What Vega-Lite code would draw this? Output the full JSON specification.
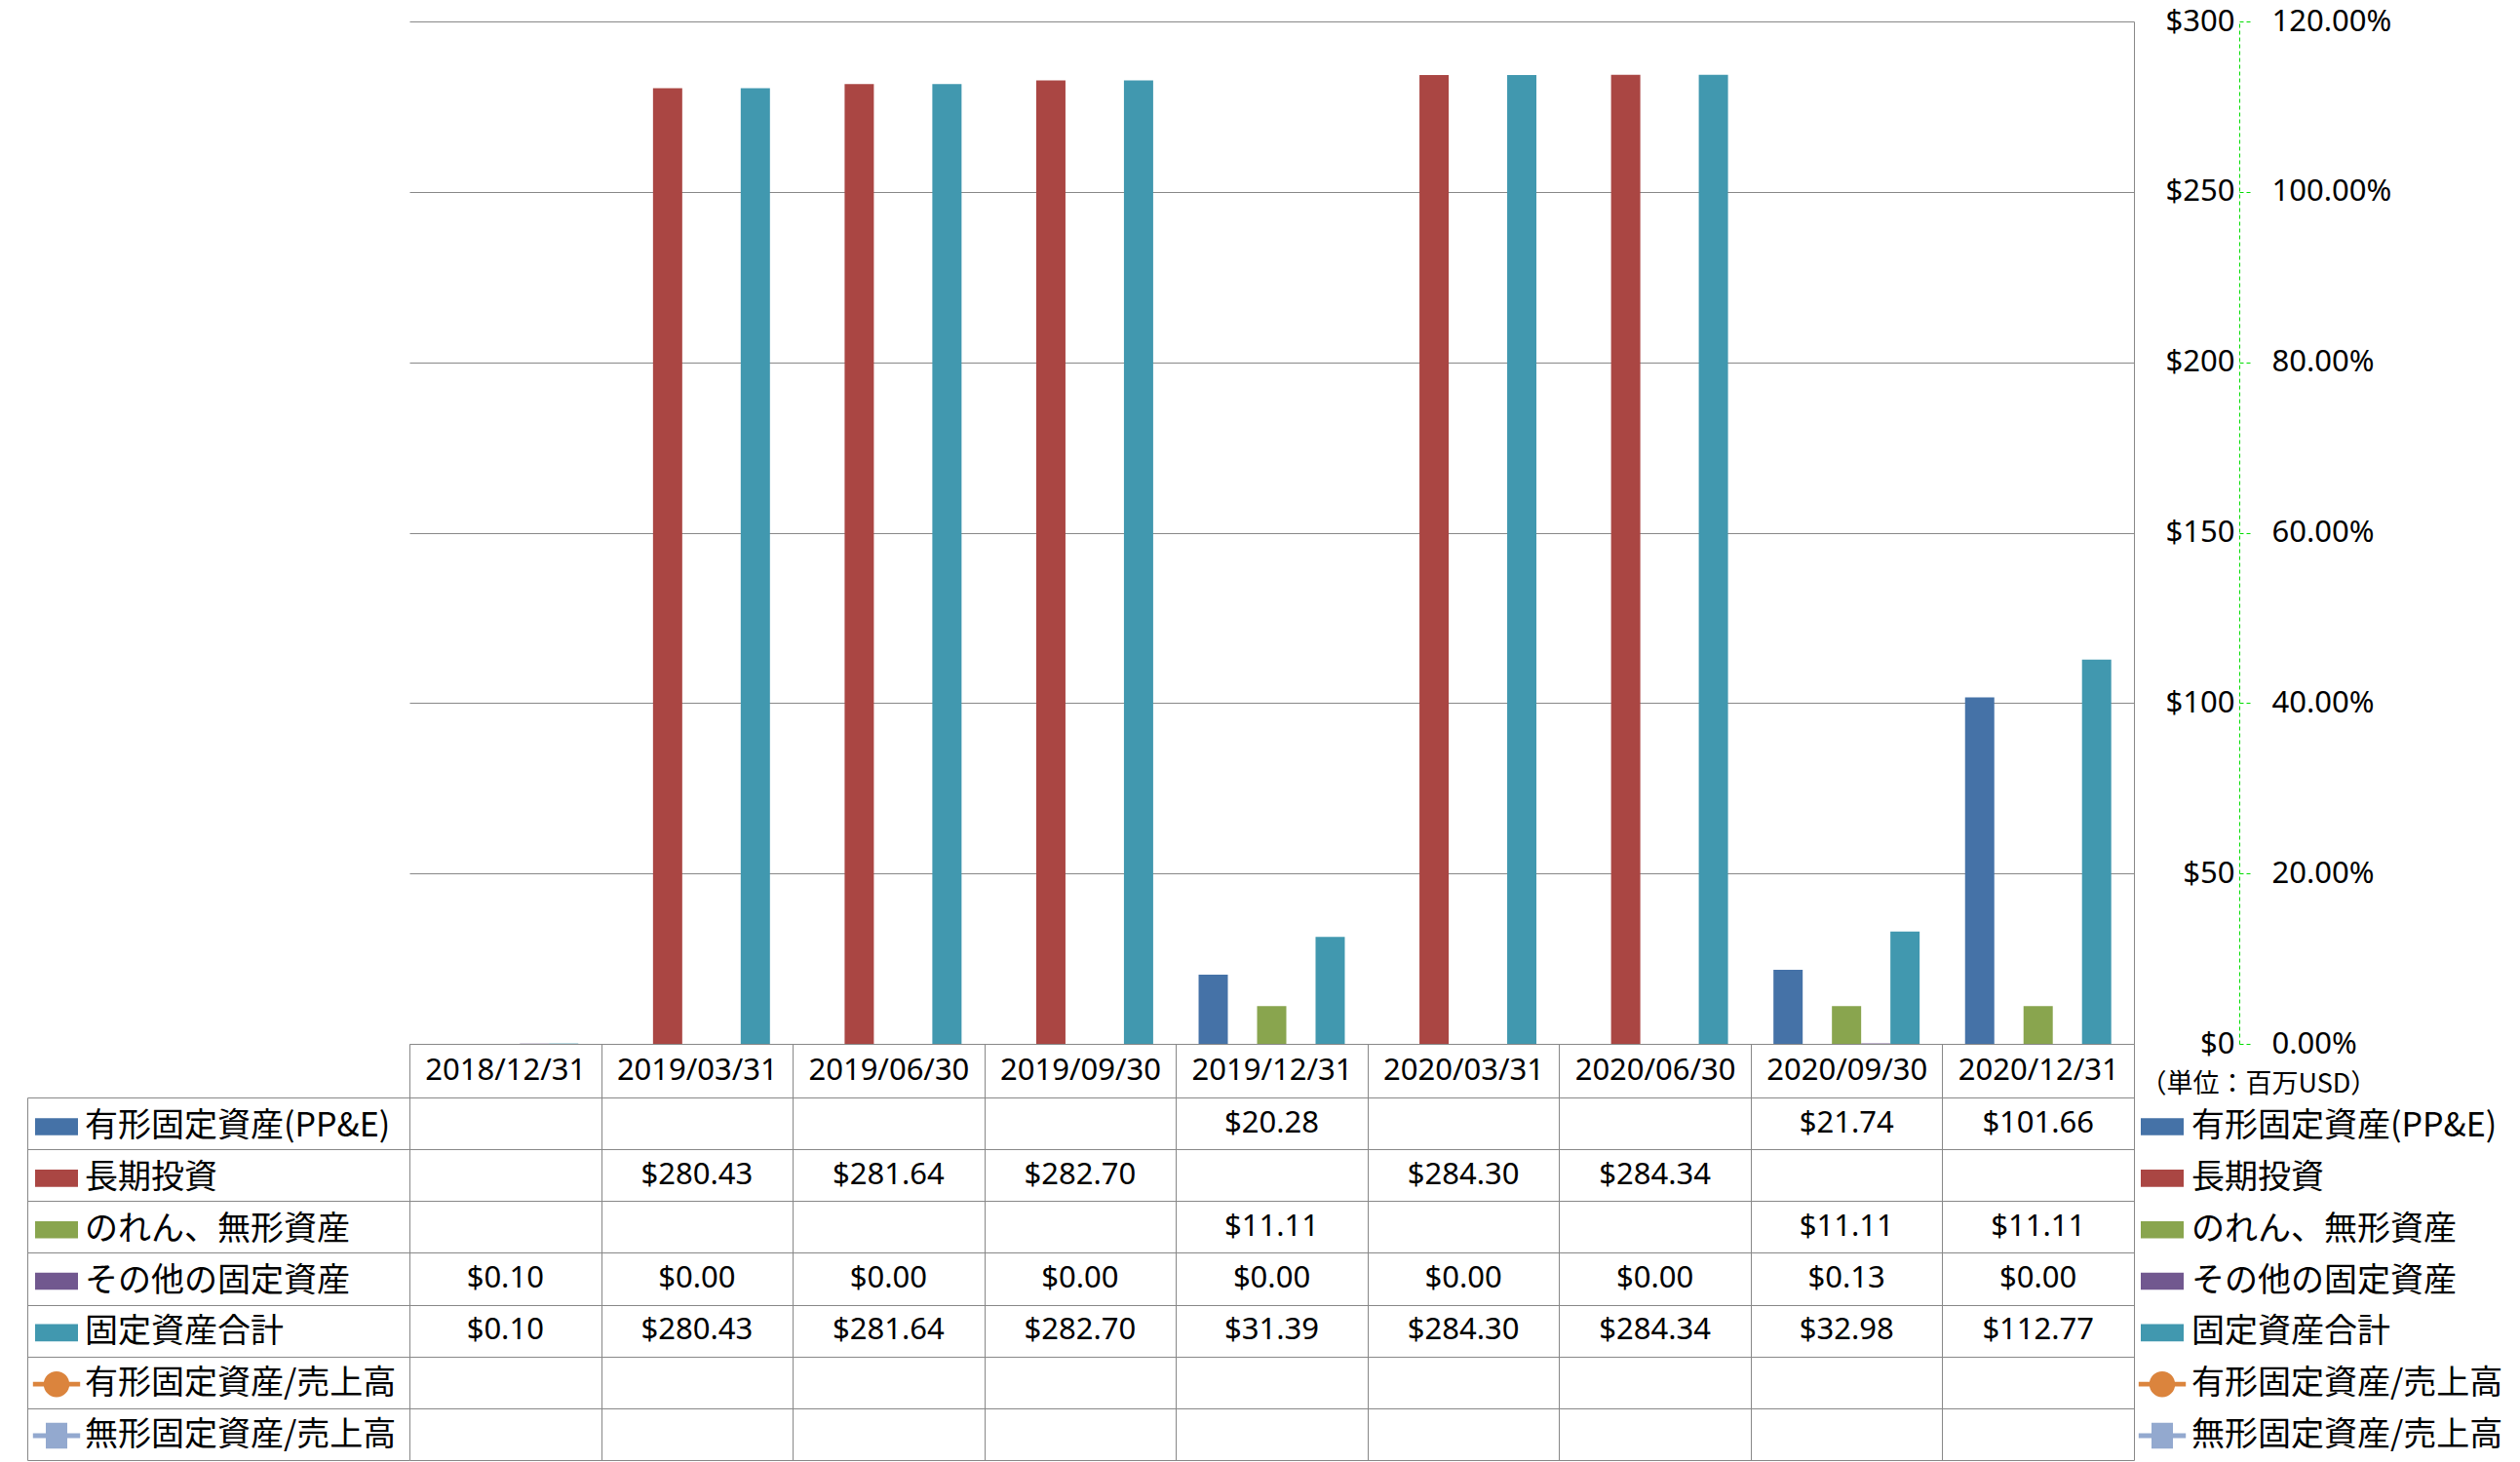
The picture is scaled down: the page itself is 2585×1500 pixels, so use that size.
{
  "$schema": "https://vega.github.io/schema/vega-lite/v6.json",
  "autosize": {"type": "none"},
  "padding": {"left": 420, "top": 22, "right": 396, "bottom": 2},
  "width": 1769,
  "height": 1476,
  "background": "#ffffff",
  "config": {
    "view": {"stroke": null},
    "font": "Noto Sans",
    "axis": {"labelColor": "#000000", "titleColor": "#000000"}
  },
  "data": {
    "values": [
      {"date": "2019/12/31", "series": "有形固定資産(PP&E)", "value": 20.28},
      {"date": "2020/09/30", "series": "有形固定資産(PP&E)", "value": 21.74},
      {"date": "2020/12/31", "series": "有形固定資産(PP&E)", "value": 101.66},
      {"date": "2019/03/31", "series": "長期投資", "value": 280.43},
      {"date": "2019/06/30", "series": "長期投資", "value": 281.64},
      {"date": "2019/09/30", "series": "長期投資", "value": 282.70},
      {"date": "2020/03/31", "series": "長期投資", "value": 284.30},
      {"date": "2020/06/30", "series": "長期投資", "value": 284.34},
      {"date": "2019/12/31", "series": "のれん、無形資産", "value": 11.11},
      {"date": "2020/09/30", "series": "のれん、無形資産", "value": 11.11},
      {"date": "2020/12/31", "series": "のれん、無形資産", "value": 11.11},
      {"date": "2018/12/31", "series": "その他の固定資産", "value": 0.10},
      {"date": "2019/03/31", "series": "その他の固定資産", "value": 0.00},
      {"date": "2019/06/30", "series": "その他の固定資産", "value": 0.00},
      {"date": "2019/09/30", "series": "その他の固定資産", "value": 0.00},
      {"date": "2019/12/31", "series": "その他の固定資産", "value": 0.00},
      {"date": "2020/03/31", "series": "その他の固定資産", "value": 0.00},
      {"date": "2020/06/30", "series": "その他の固定資産", "value": 0.00},
      {"date": "2020/09/30", "series": "その他の固定資産", "value": 0.13},
      {"date": "2020/12/31", "series": "その他の固定資産", "value": 0.00},
      {"date": "2018/12/31", "series": "固定資産合計", "value": 0.10},
      {"date": "2019/03/31", "series": "固定資産合計", "value": 280.43},
      {"date": "2019/06/30", "series": "固定資産合計", "value": 281.64},
      {"date": "2019/09/30", "series": "固定資産合計", "value": 282.70},
      {"date": "2019/12/31", "series": "固定資産合計", "value": 31.39},
      {"date": "2020/03/31", "series": "固定資産合計", "value": 284.30},
      {"date": "2020/06/30", "series": "固定資産合計", "value": 284.34},
      {"date": "2020/09/30", "series": "固定資産合計", "value": 32.98},
      {"date": "2020/12/31", "series": "固定資産合計", "value": 112.77},
      {"date": "2018/12/31", "series": "有形固定資産/売上高", "value": null},
      {"date": "2019/03/31", "series": "有形固定資産/売上高", "value": null},
      {"date": "2019/06/30", "series": "有形固定資産/売上高", "value": null},
      {"date": "2019/09/30", "series": "有形固定資産/売上高", "value": null},
      {"date": "2019/12/31", "series": "有形固定資産/売上高", "value": null},
      {"date": "2020/03/31", "series": "有形固定資産/売上高", "value": null},
      {"date": "2020/06/30", "series": "有形固定資産/売上高", "value": null},
      {"date": "2020/09/30", "series": "有形固定資産/売上高", "value": null},
      {"date": "2020/12/31", "series": "有形固定資産/売上高", "value": null},
      {"date": "2018/12/31", "series": "無形固定資産/売上高", "value": null},
      {"date": "2019/03/31", "series": "無形固定資産/売上高", "value": null},
      {"date": "2019/06/30", "series": "無形固定資産/売上高", "value": null},
      {"date": "2019/09/30", "series": "無形固定資産/売上高", "value": null},
      {"date": "2019/12/31", "series": "無形固定資産/売上高", "value": null},
      {"date": "2020/03/31", "series": "無形固定資産/売上高", "value": null},
      {"date": "2020/06/30", "series": "無形固定資産/売上高", "value": null},
      {"date": "2020/09/30", "series": "無形固定資産/売上高", "value": null},
      {"date": "2020/12/31", "series": "無形固定資産/売上高", "value": null}
    ]
  },
  "encoding": {
    "x": {
      "field": "date", "type": "nominal",
      "scale": {"type": "band", "paddingInner": 0, "paddingOuter": 0},
      "axis": {
        "orient": "bottom", "offset": -427, "tickBand": "extent", "tickSize": 427,
        "ticks": true, "domain": true,
        "tickColor": "#888888", "tickWidth": 1, "domainColor": "#888888", "domainWidth": 1,
        "labels": true, "labelPadding": -400, "labelBaseline": "middle", "labelAngle": 0, "labelAlign": "center",
        "labelFontSize": 31, "labelFont": "Noto Sans", "labelColor": "#000000",
        "title": null, "grid": false, "labelOverlap": false
      }
    }
  },
  "layer": [
    {
      "transform": [{"filter": {"field": "series", "oneOf": ["有形固定資産(PP&E)", "長期投資", "のれん、無形資産", "その他の固定資産", "固定資産合計"]}}],
      "mark": {"type": "bar"},
      "encoding": {
        "xOffset": {
          "field": "series", "type": "nominal",
          "scale": {"domain": ["有形固定資産(PP&E)", "長期投資", "のれん、無形資産", "その他の固定資産", "固定資産合計"], "paddingInner": 0, "paddingOuter": 0.777}
        },
        "y": {
          "field": "value", "type": "quantitative",
          "scale": {"domain": [0, 300], "range": [1049, 0], "nice": false, "zero": true},
          "axis": {
            "orient": "right", "values": [0, 50, 100, 150, 200, 250, 300],
            "labelExpr": "'$' + datum.value",
            "grid": true, "gridColor": "#888888", "gridWidth": 1,
            "ticks": false, "tickSize": 0, "domain": true, "domainColor": "#888888", "domainWidth": 1,
            "labelAlign": "right", "labelPadding": 103, "labelBaseline": "middle",
            "labelFontSize": 31, "labelFont": "Noto Sans", "labelColor": "#000000",
            "title": "（単位：百万USD）", "titleAngle": 0, "titleX": 6, "titleY": 1090,
            "titleAlign": "left", "titleBaseline": "middle", "titleFontSize": 27,
            "titleFontWeight": "normal", "titleFont": "Noto Sans CJK JP", "titleColor": "#000000"
          }
        },
        "color": {
          "field": "series", "type": "nominal",
          "scale": {
            "domain": ["有形固定資産(PP&E)", "長期投資", "のれん、無形資産", "その他の固定資産", "固定資産合計", "有形固定資産/売上高", "無形固定資産/売上高"],
            "range": ["#4572A7", "#AA4643", "#89A54E", "#71588F", "#4198AF", "#DB843D", "#93A9CF"]
          },
          "legend": {
            "orient": "none", "legendX": -384, "legendY": 1112, "title": null, "padding": 0,
            "symbolSize": 1936, "symbolStrokeWidth": 0, "rowPadding": 13.84,
            "labelFont": "Noto Sans CJK JP", "labelFontSize": 34, "labelLimit": 0, "labelOffset": 7, "labelColor": "#000000",
            "symbolOpacity": 1,
            "encode": {"symbols": {"update": {"shape": {"signal": "datum.value === '有形固定資産/売上高' ? 'M-1.1,-0.11H1.1V0.11H-1.1Z M-0.6,0A0.6,0.6 0 1,1 0.6,0A0.6,0.6 0 1,1 -0.6,0Z' : datum.value === '無形固定資産/売上高' ? 'M-1.1,-0.11H1.1V0.11H-1.1Z M-0.5,-0.6H0.5V0.6H-0.5Z' : 'M-1,-0.4H1V0.4H-1Z'"}}}}
          }
        }
      }
    },
    {
      "transform": [{"filter": "datum.value != null"}],
      "mark": {"type": "text", "font": "Noto Sans", "fontSize": 31, "color": "#000000", "baseline": "middle", "align": "center"},
      "encoding": {
        "y": {
          "field": "series", "type": "nominal",
          "scale": {
            "type": "band",
            "domain": ["有形固定資産(PP&E)", "長期投資", "のれん、無形資産", "その他の固定資産", "固定資産合計", "有形固定資産/売上高", "無形固定資産/売上高"],
            "range": [1104, 1476], "paddingInner": 0, "paddingOuter": 0
          },
          "axis": {
            "orient": "left", "offset": 392, "tickSize": -392, "tickBand": "extent",
            "tickColor": "#888888", "tickWidth": 1, "labels": false,
            "domain": true, "domainColor": "#888888", "domainWidth": 1,
            "grid": true, "gridColor": "#888888", "gridWidth": 1, "title": null
          }
        },
        "text": {"field": "value", "type": "quantitative", "format": "$.2f"}
      }
    },
    {
      "transform": [{"filter": {"field": "series", "oneOf": ["有形固定資産/売上高", "無形固定資産/売上高"]}}],
      "mark": {"type": "point", "filled": true, "opacity": 1},
      "encoding": {
        "y": {
          "field": "value", "type": "quantitative",
          "scale": {"domain": [0, 1.2], "range": [1049, 0], "nice": false, "zero": true},
          "axis": {
            "orient": "right", "offset": 108, "values": [0, 0.2, 0.4, 0.6, 0.8, 1.0, 1.2], "format": ".2%",
            "grid": false, "domain": true, "domainColor": "#00DD00", "domainDash": [4, 3], "domainWidth": 1,
            "ticks": true, "tickSize": 11, "tickColor": "#00DD00", "tickDash": [4, 3], "tickWidth": 1,
            "labelPadding": 22, "labelAlign": "left", "labelBaseline": "middle",
            "labelFontSize": 31, "labelFont": "Noto Sans", "labelColor": "#000000", "title": null
          }
        },
        "color": {
          "field": "series", "type": "nominal",
          "scale": {
            "domain": ["有形固定資産(PP&E)", "長期投資", "のれん、無形資産", "その他の固定資産", "固定資産合計", "有形固定資産/売上高", "無形固定資産/売上高"],
            "range": ["#4572A7", "#AA4643", "#89A54E", "#71588F", "#4198AF", "#DB843D", "#93A9CF"]
          },
          "legend": {
            "orient": "none", "legendX": 1776, "legendY": 1112, "title": null, "padding": 0,
            "symbolSize": 1936, "symbolStrokeWidth": 0, "rowPadding": 13.84,
            "labelFont": "Noto Sans CJK JP", "labelFontSize": 34, "labelLimit": 0, "labelOffset": 8, "labelColor": "#000000",
            "symbolOpacity": 1,
            "encode": {"symbols": {"update": {"shape": {"signal": "datum.value === '有形固定資産/売上高' ? 'M-1.1,-0.11H1.1V0.11H-1.1Z M-0.6,0A0.6,0.6 0 1,1 0.6,0A0.6,0.6 0 1,1 -0.6,0Z' : datum.value === '無形固定資産/売上高' ? 'M-1.1,-0.11H1.1V0.11H-1.1Z M-0.5,-0.6H0.5V0.6H-0.5Z' : 'M-1,-0.4H1V0.4H-1Z'"}}}}
          }
        }
      }
    }
  ],
  "resolve": {
    "scale": {"y": "independent", "color": "independent"},
    "axis": {"y": "independent"},
    "legend": {"color": "independent"}
  }
}
